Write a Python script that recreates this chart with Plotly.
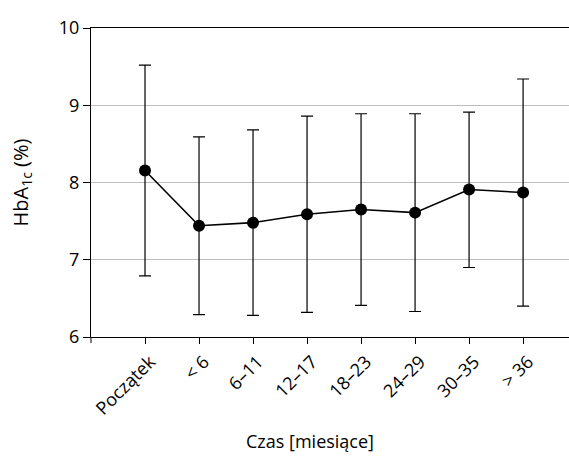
import plotly.graph_objects as go

categories = ["Początek", "< 6", "6–11", "12–17", "18–23", "24–29", "30–35", "> 36"]
mean_vals = [8.155, 7.44, 7.48, 7.59, 7.65, 7.61, 7.91, 7.87]
upper_vals = [9.52, 8.59, 8.68, 8.86, 8.89, 8.89, 8.91, 9.34]
lower_vals = [6.79, 6.29, 6.28, 6.32, 6.41, 6.33, 6.90, 6.40]
y_ticks = [6, 7, 8, 9, 10]

err_plus = [u - m for u, m in zip(upper_vals, mean_vals)]
err_minus = [m - l for m, l in zip(mean_vals, lower_vals)]
xpos = list(range(len(categories)))

FONT = "Open Sans"

fig = go.Figure()
fig.add_trace(go.Scatter(
    x=xpos, y=mean_vals, mode="lines+markers",
    line=dict(color="black", width=1.6),
    marker=dict(color="black", size=12),
    error_y=dict(type="data", symmetric=False, array=err_plus, arrayminus=err_minus,
                 color="black", thickness=1.2, width=6),
    showlegend=False,
))

# small corner tick at the left end of the x axis
fig.add_shape(type="line", xref="paper", yref="paper", x0=0, x1=0, y0=0, y1=-0.0195,
              line=dict(color="black", width=1))

fig.update_layout(
    width=569, height=464,
    margin=dict(l=91, r=0, t=28, b=127),
    paper_bgcolor="white", plot_bgcolor="white",
    font=dict(family=FONT, color="black"),
    xaxis=dict(
        range=[-1, 7.85],
        tickmode="array", tickvals=xpos, ticktext=categories,
        tickangle=-45, tickfont=dict(size=18), ticklabelshift=5,
        showline=True, linecolor="black", linewidth=1.3, mirror=True,
        ticks="outside", ticklen=6, tickcolor="black", tickwidth=1,
        showgrid=False, zeroline=False,
    ),
    yaxis=dict(
        range=[6, 10],
        tickmode="array", tickvals=y_ticks,
        tickfont=dict(size=18),
        showline=True, linecolor="black", linewidth=1.3,
        ticks="outside", ticklen=7, tickcolor="black", tickwidth=1,
        showgrid=True, gridcolor="#bdbdbd", gridwidth=1,
        zeroline=False,
        title=dict(text="HbA<sub>1c</sub> (%)", font=dict(size=20), standoff=24),
    ),
    annotations=[dict(
        text="Czas [miesiące]", xref="paper", yref="paper",
        x=0.458, y=-0.335, xanchor="center", yanchor="middle",
        showarrow=False, font=dict(size=18),
    )],
)

fig.write_html("out.html", config={"displayModeBar": False},
               post_script="document.body.style.margin='0';document.body.style.overflow='hidden';")
